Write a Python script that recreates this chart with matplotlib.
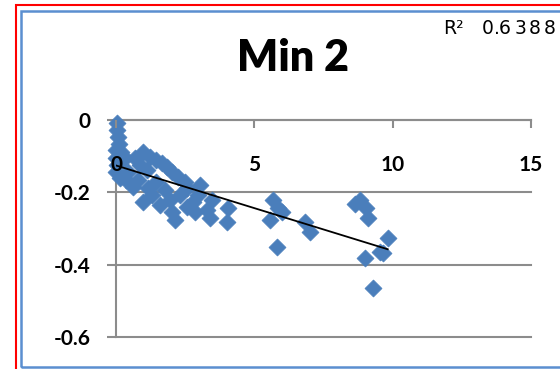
import numpy as np
import matplotlib.pyplot as plt
from matplotlib.patches import Rectangle

# values
x_vals = [0.04, 0.04, 0.07, 0.11, 0.00, 0.18, 0.01, 0.04, 0.00, 0.14,
          0.32, 0.43, 0.36, 0.69, 0.97, 1.23, 1.44, 1.66, 1.84, 2.02,
          2.24, 2.49, 0.87, 1.12, 0.61, 0.79, 0.97, 1.30, 1.59, 1.16,
          1.44, 1.77, 2.13, 2.02, 2.56, 2.78, 2.56, 2.85, 3.03, 2.96,
          3.29, 3.47, 3.39, 4.04, 4.01, 2.31, 1.95,
          5.67, 5.99, 5.56, 5.81, 6.82, 7.00, 5.85,
          8.81, 8.63, 9.03, 9.10, 9.82, 9.53, 8.99, 9.28, 9.64]
y_vals = [-0.008, -0.028, -0.047, -0.066, -0.083, -0.088, -0.105, -0.124, -0.144, -0.160,
          -0.105, -0.144, -0.166, -0.105, -0.088, -0.102, -0.111, -0.119, -0.130, -0.144,
          -0.158, -0.171, -0.124, -0.138, -0.185, -0.166, -0.227, -0.207, -0.235, -0.188,
          -0.171, -0.194, -0.276, -0.254, -0.188, -0.227, -0.241, -0.254, -0.180, -0.207,
          -0.249, -0.221, -0.271, -0.243, -0.282, -0.207, -0.221,
          -0.221, -0.254, -0.276, -0.351, -0.282, -0.310, -0.243,
          -0.221, -0.232, -0.243, -0.271, -0.326, -0.365, -0.382, -0.465, -0.368]

x_ticks = [0, 5, 10, 15]
y_ticks = [0, -0.2, -0.4, -0.6]
y_tick_labels = ["0", "-0.2", "-0.4", "-0.6"]
title = "Min 2"
r2_label = "R\u00b2"
r2_value = "0.6388"

plt.rcParams['font.family'] = ['Lato', 'DejaVu Sans']

W, H = 560, 369
fig = plt.figure(figsize=(W / 100, H / 100), dpi=100)

# frame lines around the chart (red outer, blue inner)
fig.add_artist(Rectangle((15.5 / W, -0.1), 2.0, 1.1 - 5 / H, transform=fig.transFigure,
                         fill=False, edgecolor='#ff0000', linewidth=1.5))
fig.add_artist(Rectangle((20.5 / W, (H - 366.5) / H), 2.0, (366.5 - 10.5) / H,
                         transform=fig.transFigure, fill=False,
                         edgecolor='#5b8fd0', linewidth=1.8))

ax = fig.add_axes([116 / W, (H - 337) / H, 415 / W, 217 / H])
ax.set_xlim(0, 15)
ax.set_ylim(-0.6, 0)

grid_col = '#8c8c8c'
for yv in y_ticks:
    ax.axhline(yv, color=grid_col, linewidth=1.5, zorder=1, clip_on=False)

for s in ['top', 'right']:
    ax.spines[s].set_visible(False)
ax.spines['bottom'].set_position(('data', 0))
ax.spines['bottom'].set_color(grid_col)
ax.spines['bottom'].set_linewidth(1.5)
ax.spines['bottom'].set_zorder(1)
ax.spines['left'].set_color(grid_col)
ax.spines['left'].set_linewidth(1.5)
ax.spines['left'].set_zorder(1)

ax.set_xticks(x_ticks)
ax.set_xticklabels([str(t) for t in x_ticks])
ax.set_yticks(y_ticks)
ax.set_yticklabels(y_tick_labels)
ax.tick_params(axis='x', direction='out', length=6, width=1.5, color=grid_col,
               pad=19, labelsize=15)
ax.tick_params(axis='y', direction='out', length=6.5, width=1.5, color=grid_col,
               pad=12, labelsize=15)
for lab in ax.get_xticklabels() + ax.get_yticklabels():
    lab.set_fontweight('bold')
ax.xaxis.set_zorder(6)

ax.scatter(x_vals, y_vals, marker='D', s=75, color='#4a7ebb', edgecolors='#4a7ebb',
           linewidths=0.5, zorder=3, clip_on=False)

# linear trendline
xs = np.array(x_vals)
ys = np.array(y_vals)
k, b = np.polyfit(xs, ys, 1)
xl = np.array([xs.min(), xs.max()])
ax.plot(xl, k * xl + b, color='black', linewidth=1.3, zorder=4)

fig.text(293 / W, (H - 58) / H, title, ha='center', va='center',
         fontsize=31, fontweight='heavy')

# R squared value, wide letter spacing as in the reference
fig.text(443 / W, (H - 28) / H, r2_label, ha='left', va='center', fontsize=13.5,
         family='DejaVu Sans')
char_x = [488, 497, 505, 520, 535, 550]
for cx, ch in zip(char_x, r2_value):
    fig.text(cx / W, (H - 28) / H, ch, ha='center', va='center',
             fontsize=13.5, family='DejaVu Sans')

fig.savefig('out.png', dpi=100)
